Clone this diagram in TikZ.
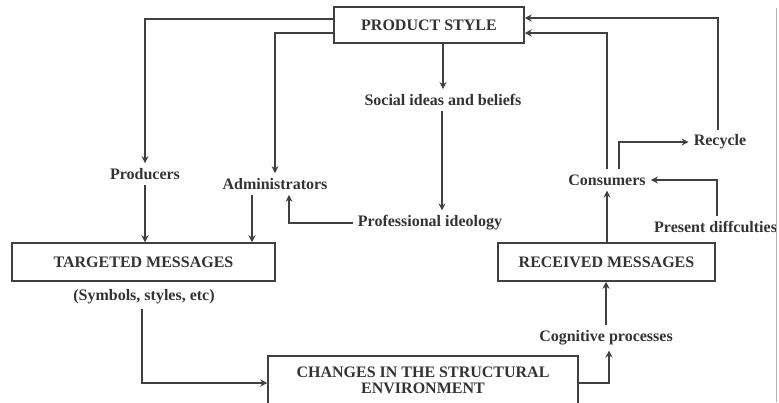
\documentclass[tikz,border=0pt]{standalone}
\usepackage{fontspec}
\setmainfont{Liberation Serif}
\usetikzlibrary{arrows.meta}

\begin{document}
\begin{tikzpicture}[x=1pt, y=-1pt, font=\fontsize{16}{19}\selectfont\bfseries]
            \tikzstyle{box}=[draw=black!75, line width=1.5pt, text=black!80, align=center, inner sep=2pt]
            \tikzstyle{label}=[text=black!80, inner sep=5pt]
            \tikzstyle{arr}=[draw=black!75, line width=1.5pt, -{Stealth[length=7pt,width=7pt]}]

            \useasboundingbox (0,0) rectangle (779,402);

            \node[box, minimum width=190pt, minimum height=36pt] (Box_PS) at (429,25) {PRODUCT STYLE};
            \node[box, minimum width=263pt, minimum height=38pt] (Box_TM) at (143.5,262) {TARGETED MESSAGES};
            \node[box, minimum width=217pt, minimum height=38pt] (Box_RM) at (606.5,262) {RECEIVED MESSAGES};
            \node[box, minimum width=310pt, minimum height=48pt] (Box_CE) at (423,380) {CHANGES IN THE STRUCTURAL\\[-3pt]ENVIRONMENT};

            \node[label] (L_prod) at (145,174) {Producers};
            \node[label] (L_admin) at (275,184) {Administrators};
            \node[label] (L_soc) at (443,100) {Social ideas and beliefs};
            \node[label] (L_prof) at (430,223) {Professional ideology};
            \node[label] (L_sym) at (144,297) {(Symbols, styles, etc)};
            \node[label] (L_cog) at (606,338) {Cognitive processes};
            \node[label] (L_cons) at (607,180) {Consumers};
            \node[label] (L_rec) at (720,142) {Recycle};
            \node[label, anchor=west, inner xsep=0pt] (L_pres) at (654,227) {Present diffculties};

            \draw[arr] ([yshift=6pt]Box_PS.west) -| (L_prod);
            \draw[arr] ([yshift=-8pt]Box_PS.west) -| (L_admin);
            \draw[arr] (Box_PS.south -| L_soc) -- (L_soc);
            \draw[arr] ([xshift=-1pt]L_soc.south) -- ([xshift=-1pt]L_soc.south |- L_prof.north);
            \draw[arr] (L_prof.west) -| ([xshift=14pt]L_admin.south);
            \draw[arr] (L_prod) -- (L_prod |- Box_TM.north);
            \draw[arr] ([xshift=-23pt]L_admin.south) -- ([xshift=-23pt]L_admin.south |- Box_TM.north);
            \draw[arr] ([xshift=-2pt]L_sym.south) |- ([yshift=-3pt]Box_CE.west);
            \draw[arr] ([yshift=-3pt]Box_CE.east) -| ([xshift=3pt]L_cog.south);
            \draw[arr] (L_cog.north) -- (L_cog |- Box_RM.south);
            \draw[arr] (Box_RM.north -| L_cons) -- (L_cons);
            \draw[arr] (L_cons.north) |- ([yshift=-8pt]Box_PS.east);
            \draw[arr] ([xshift=12pt]L_cons.north) |- (L_rec.west);
            \draw[arr] ([xshift=-2pt]L_rec.north) |- ([yshift=7pt]Box_PS.east);
            \draw[arr] ([xshift=63pt]L_pres.north west) |- (L_cons.east);

            \draw[black!30, line width=1pt] (776,8) -- (776,402);
        \end{tikzpicture}
\end{document}
